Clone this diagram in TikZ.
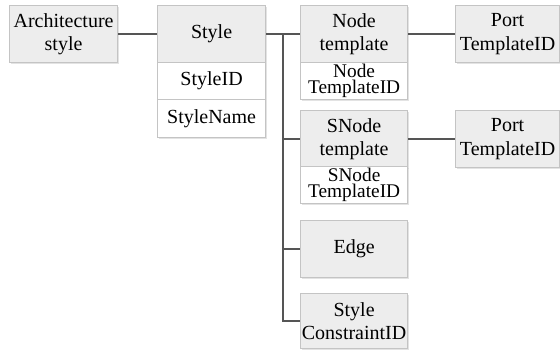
\documentclass[tikz,border=0pt]{standalone}
\usepackage{fontspec}
\setmainfont{Liberation Serif}
\usetikzlibrary{shadows}
\definecolor{boxfill}{HTML}{EDEDED}
\definecolor{boxline}{HTML}{C4C4C4}
\definecolor{wire}{HTML}{555555}
\tikzset{
  base/.style={draw=boxline, line width=0.9pt, anchor=north west, inner sep=0pt,
    align=center, minimum width=81pt,
    drop shadow={shadow xshift=1.2pt, shadow yshift=-1.2pt, fill=black!18, opacity=0.6}},
  headbox/.style={base, fill=boxfill, minimum height=42.75pt,
    font=\fontsize{15}{17.5}\selectfont},
  rowbox/.style={base, fill=white, minimum height=27.75pt,
    font=\fontsize{14.5}{12.3}\selectfont},
  wireline/.style={draw=wire, line width=1.1pt},
}
\begin{document}
\begin{tikzpicture}[x=0.75pt, y=-0.75pt]
  \useasboundingbox (0,0) rectangle (560,354);
  \clip (0,0) rectangle (560,354);

  % left column
  \node[headbox] (arch) at (9,5) {Architecture\\style};

  % style entity with its attributes (header first, rows stacked below)
  \node[headbox] (style) at (157,5) {Style};
  \node[rowbox, font=\fontsize{15}{17.5}\selectfont] (sid) at (157,62) {StyleID};
  \node[rowbox, minimum height=28.5pt, font=\fontsize{15}{17.5}\selectfont] (sname) at (157,99) {StyleName};

  % node template and its id
  \node[headbox, minimum width=80.25pt] (ntpl) at (300,5) {Node\\template};
  \node[rowbox, minimum width=80.25pt] (nid) at (300,62) {Node\\TemplateID};

  % snode template and its id
  \node[headbox, minimum width=80.25pt] (sntpl) at (300,110) {SNode\\template};
  \node[rowbox, minimum width=80.25pt] (snid) at (300,166) {SNode\\TemplateID};

  % remaining children
  \node[headbox, minimum width=80.25pt] (edge) at (300,220) {Edge};
  \node[headbox, minimum width=80.25pt, minimum height=41.25pt] (scon) at (300,293) {Style\\ConstraintID};

  % ports
  \node[headbox, minimum width=78pt] (port1) at (455,5) {Port\\TemplateID};
  \node[headbox, minimum width=78pt] (port2) at (455,110) {Port\\TemplateID};

  % connectors
  \coordinate (trunk) at (283,0);
  \draw[wireline] (arch.east) -- (style.west);
  \draw[wireline] (style.east) -- (ntpl.west);
  \draw[wireline] (trunk |- style.east) |- (scon.west);
  \draw[wireline] (trunk |- sntpl.west) -- (sntpl.west);
  \draw[wireline] (trunk |- edge.west) -- (edge.west);
  \draw[wireline] (ntpl.east) -- (port1.west);
  \draw[wireline] (sntpl.east) -- (port2.west);
\end{tikzpicture}
\end{document}
